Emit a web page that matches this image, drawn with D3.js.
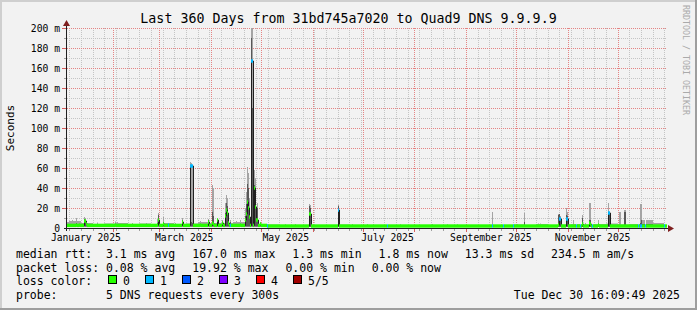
<!DOCTYPE html>
<meta charset="utf-8">
<title>Last 360 Days - Quad9 DNS</title>
<style>

body {
  margin: 0;
  background: #f2f2f2;
}

text {
  font-family: "DejaVu Sans Mono", monospace;
  fill: #000;
  white-space: pre;
}

</style>

<script src="https://d3js.org/d3.v7.min.js"></script>

<div id="chart">
</div>

<script>

// ---- data ----

// weekly background (weeks starting on Monday, 30 Dec 2024 .. 29 Dec 2025), values in ms
var baseHi = [6, 7, 5, 4, 4.5, 5, 4, 4.5, 4, 5, 4, 4.5, 6, 5, 5, 6, 6, 4,
              3.5, 3, 3, 3, 3, 3, 3.5, 3, 3, 3, 3, 3, 3, 3, 3, 3, 3, 3, 3, 3, 3,
              3.5, 3, 4, 3, 3.5, 4, 3.5, 4, 4.5, 3.5, 4, 8, 5, 3];
var baseMid = [3.4, 3.4, 3.4, 3.4, 3.4, 3.4, 3.4, 3.4, 3.4, 3.4, 3.4, 3.4, 3.4, 3.4, 3.4, 3.4, 3.4, 3.4,
               2.8, 2.8, 2.8, 2.8, 2.8, 2.8, 2.8, 2.8, 2.8, 2.8, 2.8, 2.8, 2.8, 2.8, 2.8, 2.8, 2.8, 2.8, 2.8, 2.8, 2.8,
               2.8, 2.8, 2.8, 2.8, 2.8, 2.8, 2.8, 2.8, 2.8, 2.8, 2.8, 4, 3, 2.8];
var baseMed = [2.6, 2.6, 2.6, 2.6, 2.6, 2.6, 2.6, 2.6, 2.6, 2.6, 2.6, 2.6, 2.6, 2.6, 2.6, 2.6, 2.6, 2.6,
               2, 2, 2, 2, 2, 2, 2, 2, 2, 2, 2, 2, 2, 2, 2, 2, 2, 2, 2, 2, 2,
               2, 2, 2, 2, 2, 2, 2, 2, 2, 2, 2, 2, 2, 2];
var baseLo = [1.4, 1.4, 1.4, 1.4, 1.4, 1.4, 1.4, 1.4, 1.4, 1.4, 1.4, 1.4, 1.4, 1.4, 1.4, 1.4, 1.4, 1.4,
              1.2, 1.2, 1.2, 1.2, 1.2, 1.2, 1.2, 1.2, 1.2, 1.2, 1.2, 1.2, 1.2, 1.2, 1.2, 1.2, 1.2, 1.2, 1.2, 1.2, 1.2,
              1.2, 1.2, 1.2, 1.2, 1.2, 1.2, 1.2, 1.2, 1.2, 1.2, 1.2, 1.2, 1.2, 1.2];
var baseLoss = [0, 0, 0, 0, 0, 0, 0, 0, 0, 0, 0, 0, 0, 0, 0, 0, 0, 0,
                0, 0, 0, 0, 0, 0, 0, 0, 0, 0, 0, 0, 0, 0, 0, 0, 0, 0, 0, 0, 0,
                0, 0, 0, 0, 0, 0, 0, 0, 0, 0, 0, 0, 0, 0];

// single graph columns that stand out (days since 1 Jan 2025, ms, pings lost)
var spikeDay = [6.67, 9.07, 10.87, 13.87, 14.47, 15.07, 21.67, 32.47, 33.67, 42.67, 51.07,
                57.67, 58.27, 61.27, 64.27, 68.47, 72.67, 77.47, 78.07, 78.67, 83.47, 86.47,
                88.27, 90.67, 91.27, 93.67, 96.67, 98.47, 99.07, 99.67, 100.27, 101.47, 105.07,
                107.47, 110.47, 111.07, 111.67, 112.27, 112.87, 114.07, 114.67, 115.87, 116.47,
                117.07, 117.67, 119.47, 123.67, 134.47, 140.47, 148.87, 149.47, 166.27, 174.67,
                183.67, 187.27, 195.67, 203.47, 222.67, 231.67, 237.67, 258.67, 265.27, 271.27,
                273.67, 277.87, 286.27, 287.47, 298.27, 298.87, 299.47, 303.07, 303.67, 307.27,
                309.07, 311.47, 312.67, 314.47, 316.87, 317.47, 318.67, 322.27, 328.27, 328.87,
                334.87, 335.47, 337.87, 338.47, 343.27, 346.27, 347.47, 348.07, 350.47, 361.87];
var spikeHi = [8, 10, 7, 11, 10, 7, 5.5, 6.5, 6, 5, 5,
               9, 15, 11, 5, 5, 10, 66, 65, 63, 7, 6,
               9, 43, 40, 10, 8, 25, 33, 30, 12, 8, 7,
               8, 20, 36, 61, 55, 30, 200, 200, 58, 50,
               20, 25, 6, 4, 3.8, 4, 24, 23, 23, 4,
               4, 3.8, 3, 3.8, 4, 3.8, 3.8, 16, 3, 3,
               4, 15, 4.5, 4.5, 14, 14, 12, 20, 16, 8,
               3, 3, 13, 5, 25, 25, 3, 8, 25, 16,
               16, 16, 18, 18, 4, 3, 24, 24, 3, 3];
var spikeMid = [4, 5, 4, 9, 8, 5, 3.5, 4, 3.5, 3.4, 3.4,
                5, 13, 6, 3.5, 3, 8, 8, 6, 5, 4, 3.4,
                8, 16, 12, 9, 6, 15, 25, 22, 8, 6, 4,
                4, 12, 24, 44, 40, 20, 190, 120, 43, 30,
                12, 20, 4, 3, 2.8, 2.8, 22, 20, 22, 2.8,
                2.8, 2.8, 2.8, 2.8, 2.8, 2.8, 2.8, 3, 2.8, 2.8,
                2.8, 6, 2.8, 2.8, 13, 14, 10, 13, 12, 3,
                2.8, 2.8, 10, 2.8, 8, 8, 2.8, 3, 16, 16,
                3, 3, 16, 16, 2.8, 2.8, 5, 8, 2.8, 2.8];
var spikeMed = [2.6, 3, 3, 7, 7, 4, 2.6, 3, 2.6, 2.6, 2.6,
                3, 8, 4, 3, 2.6, 6, 62, 62, 62, 3, 2.6,
                6, 5, 4, 8, 5, 12, 18, 15, 5, 2.6, 2.6,
                3, 8, 14, 26, 20, 11, 167, 167, 40, 21,
                8, 8, 4, 2, 2, 2, 14, 14, 18, 2,
                2, 2, 2, 2, 2, 2, 2, 2, 2, 2,
                2, 2, 2, 2, 3, 9, 9, 9, 9, 2,
                2, 2, 4, 2, 5, 4, 2, 3, 15, 15,
                2, 2, 2, 2, 2, 2, 2, 2, 2, 2];
var spikeLoss = [0, 0, 0, 0, 0, 0, 0, 0, 0, 0, 0,
                 0, 0, 0, 1, 0, 0, 1, 1, 1, 0, 0,
                 0, 0, 0, 0, 0, 0, 0, 0, 0, 1, 0,
                 0, 0, 0, 0, 0, 0, 1, 1, 0, 0,
                 0, 0, 0, 1, 0, 0, 0, 0, 1, 0,
                 0, 0, 1, 0, 0, 0, 0, 1, 1, 1,
                 0, 0, 0, 0, 0, 1, 1, 1, 1, 0,
                 1, 1, 0, 0, 0, 0, 1, 0, 1, 1,
                 0, 0, 0, 0, 0, 1, 1, 1, 1, 1];

var lossLabels = ["0", "1", "2", "3", "4", "5/5"];
var lossColors = ["#26ff00", "#00b8ff", "#0059ff", "#7e00ff", "#ff0000", "#a00000"];

var yTicks = [0, 20, 40, 60, 80, 100, 120, 140, 160, 180, 200];
var monthLabels = ["January 2025", "March 2025", "May 2025", "July 2025", "September 2025", "November 2025"];

var rttStats = ["3.1 ms avg", "167.0 ms max", "1.3 ms min", "1.8 ms now", "13.3 ms sd", "234.5 m am/s"];
var lossStats = ["0.08 % avg", "19.92 % max", "0.00 % min", "0.00 % now"];

var title = "Last 360 Days from 31bd745a7020 to Quad9 DNS 9.9.9.9";
var probeText = "5 DNS requests every 300s";
var stampText = "Tue Dec 30 16:09:49 2025";

// ---- layout ----

var width = 697,
    height = 310,
    DAY = 864e5;

var endTime = new Date(Date.UTC(2025, 11, 30, 16, 9, 49)),
    startTime = new Date(+endTime - 360 * DAY),
    jan1 = Date.UTC(2025, 0, 1);

var x = d3.scaleUtc()
    .domain([startTime, endTime])
    .range([67, 667]);

var y = d3.scaleLinear()
    .domain([0, 200])
    .range([228, 28]);

function px(t) { return Math.round(x(t)); }

var svg = d3.select("#chart").append("svg")
    .attr("width", width)
    .attr("height", height);

svg.append("rect").attr("width", width).attr("height", height).attr("fill", "#f2f2f2");
svg.append("rect").attr("width", width).attr("height", 2).attr("fill", "#cfcfcf");
svg.append("rect").attr("width", 2).attr("height", height).attr("fill", "#cfcfcf");
svg.append("rect").attr("y", height - 2).attr("width", width).attr("height", 2).attr("fill", "#9e9e9e");
svg.append("rect").attr("x", width - 2).attr("width", 2).attr("height", height).attr("fill", "#9e9e9e");

// ---- build step segments from weeks + spikes ----

var weeks = d3.utcMonday.range(new Date(Date.UTC(2024, 11, 30)), endTime);
var base = weeks.map(function (w, i) {
  return {t0: +w, t1: +w + 7 * DAY, hi: baseHi[i], mid: baseMid[i], med: baseMed[i],
          lo: baseLo[i], loss: baseLoss[i]};
});
function weekAt(t) {
  var found = base[0];
  base.forEach(function (b) { if (b.t0 <= t && t < b.t1) found = b; });
  return found;
}
var spikes = spikeDay.map(function (d, i) {
  var t = jan1 + d * DAY;
  return {t0: t, t1: t + 0.6 * DAY, hi: spikeHi[i], mid: spikeMid[i], med: spikeMed[i],
          lo: weekAt(t).lo, loss: spikeLoss[i]};
});

var cuts = [+startTime, +endTime];
base.concat(spikes).forEach(function (s) { cuts.push(s.t0, s.t1); });
cuts = Array.from(new Set(cuts))
    .filter(function (t) { return t >= +startTime && t <= +endTime; })
    .sort(d3.ascending);

var segs = [];
for (var i = 0; i < cuts.length - 1; i++) {
  var a = cuts[i], b = cuts[i + 1], m = (a + b) / 2, src = null;
  spikes.forEach(function (s) { if (s.t0 <= m && m < s.t1) src = s; });
  if (!src) src = weekAt(m);
  var seg = Object.assign({}, src, {t0: a, t1: b});
  if (px(b) > px(a)) segs.push(seg);
}

// ---- grid ----

var grid = svg.append("g");
var minorY = d3.range(10, 200, 20),
    majorY = yTicks.filter(function (v) { return v > 0; }),
    minorX = d3.utcMonday.range(startTime, endTime),
    majorX = d3.utcMonth.range(startTime, endTime),
    labelX = d3.utcMonth.every(2).range(new Date(jan1), endTime);

grid.selectAll("line.gy").data(minorY).join("line").attr("class", "gy")
    .attr("x1", 67).attr("x2", 667)
    .attr("y1", function (d) { return Math.round(y(d)) + 0.5; })
    .attr("y2", function (d) { return Math.round(y(d)) + 0.5; })
    .attr("stroke", "#c4c4c4").attr("stroke-dasharray", "1,1");
grid.selectAll("line.gx").data(minorX).join("line").attr("class", "gx")
    .attr("x1", function (d) { return px(d) + 0.5; })
    .attr("x2", function (d) { return px(d) + 0.5; })
    .attr("y1", 28).attr("y2", 228)
    .attr("stroke", "#c4c4c4").attr("stroke-dasharray", "1,1");
grid.selectAll("line.my").data(majorY).join("line").attr("class", "my")
    .attr("x1", 67).attr("x2", 667)
    .attr("y1", function (d) { return Math.round(y(d)) + 0.5; })
    .attr("y2", function (d) { return Math.round(y(d)) + 0.5; })
    .attr("stroke", "#e48484").attr("stroke-dasharray", "1,1");
grid.selectAll("line.mx").data(majorX).join("line").attr("class", "mx")
    .attr("x1", function (d) { return px(d) + 0.5; })
    .attr("x2", function (d) { return px(d) + 0.5; })
    .attr("y1", 28).attr("y2", 228)
    .attr("stroke", "#e48484").attr("stroke-dasharray", "1,1");

// ticks outside the plot
grid.selectAll("line.ty").data(minorY.concat(majorY)).join("line").attr("class", "ty")
    .attr("x1", function (d) { return d % 20 ? 64 : 62; }).attr("x2", 67)
    .attr("y1", function (d) { return Math.round(y(d)) + 0.5; })
    .attr("y2", function (d) { return Math.round(y(d)) + 0.5; })
    .attr("stroke", function (d) { return d % 20 ? "#a0a0a0" : "#d86060"; });
grid.selectAll("line.tx").data(minorX).join("line").attr("class", "tx")
    .attr("x1", function (d) { return px(d) + 0.5; })
    .attr("x2", function (d) { return px(d) + 0.5; })
    .attr("y1", 228).attr("y2", 231)
    .attr("stroke", "#a0a0a0");
grid.selectAll("line.tmx").data(majorX).join("line").attr("class", "tmx")
    .attr("x1", function (d) { return px(d) + 0.5; })
    .attr("x2", function (d) { return px(d) + 0.5; })
    .attr("y1", 228).attr("y2", 232)
    .attr("stroke", "#d86060");

// ---- smoke, median line, loss band ----

svg.append("clipPath").attr("id", "plot")
  .append("rect").attr("x", 67).attr("y", 28).attr("width", 600).attr("height", 200);

var plot = svg.append("g").attr("clip-path", "url(#plot)");

plot.selectAll("rect.smoke").data(segs).join("rect").attr("class", "smoke")
    .attr("x", function (d) { return px(d.t0); })
    .attr("width", function (d) { return px(d.t1) - px(d.t0); })
    .attr("y", function (d) { return y(d.hi); })
    .attr("height", function (d) { return y(d.lo) - y(d.hi); })
    .attr("fill", "#a4a4a4");

plot.selectAll("rect.smoke2").data(segs).join("rect").attr("class", "smoke2")
    .attr("x", function (d) { return px(d.t0); })
    .attr("width", function (d) { return px(d.t1) - px(d.t0); })
    .attr("y", function (d) { return y(d.mid); })
    .attr("height", function (d) { return y(d.lo) - y(d.mid); })
    .attr("fill", "#585858");

var medPts = segs.map(function (d) { return [px(d.t0) + 0.5, y(d.med)]; });
medPts.push([px(endTime) + 0.5, y(segs[segs.length - 1].med)]);

plot.append("path")
    .attr("d", d3.line().curve(d3.curveStepAfter)(medPts))
    .attr("fill", "none")
    .attr("stroke", "#202020")
    .attr("stroke-width", 1);

plot.selectAll("rect.band").data(segs).join("rect").attr("class", "band")
    .attr("x", function (d) { return px(d.t0); })
    .attr("width", function (d) { return px(d.t1) - px(d.t0); })
    .attr("y", function (d) { return y(d.med + 1.7); })
    .attr("height", function (d) { return y(d.med - 1.7) - y(d.med + 1.7); })
    .attr("fill", function (d) { return lossColors[d.loss]; });

// ---- axes ----

svg.append("line")
    .attr("x1", 64).attr("x2", 671).attr("y1", 228.5).attr("y2", 228.5)
    .attr("stroke", "#1f1f1f");
svg.append("line")
    .attr("x1", 66.5).attr("x2", 66.5).attr("y1", 231).attr("y2", 24)
    .attr("stroke", "#1f1f1f");
svg.append("path")
    .attr("d", "M668,225 L674,228.5 L668,232 Z")
    .attr("fill", "#7f1f1f");
svg.append("path")
    .attr("d", "M63,26 L66.5,20 L70,26 Z")
    .attr("fill", "#7f1f1f");

svg.selectAll("text.ylab").data(yTicks).join("text").attr("class", "ylab")
    .attr("x", 60)
    .attr("y", function (d) { return y(d) + 3.5; })
    .attr("text-anchor", "end")
    .style("font-size", "9.7px")
    .text(function (d) { return d === 0 ? "0" : d + " m"; });

svg.selectAll("text.xlab").data(labelX).join("text").attr("class", "xlab")
    .attr("x", function (d) { return x(new Date(+d + 15 * DAY)); })
    .attr("y", 241)
    .attr("text-anchor", "middle")
    .style("font-size", "9.7px")
    .text(function (d, i) { return monthLabels[i]; });

// ---- titles ----

svg.append("text")
    .attr("x", 348.5)
    .attr("y", 23)
    .attr("text-anchor", "middle")
    .style("font-size", "13.3px")
    .text(title);

svg.append("text")
    .attr("transform", "translate(14,128) rotate(-90)")
    .attr("text-anchor", "middle")
    .style("font-size", "11px")
    .text("Seconds");

svg.append("text")
    .attr("transform", "translate(683,5) rotate(90)")
    .style("font-size", "8.3px")
    .style("fill", "#aaaaaa")
    .text("RRDTOOL / TOBI OETIKER");

// ---- legend ----

function legendRow(yPos, head, items) {
  svg.append("text").attr("x", 16).attr("y", yPos).style("font-size", "11.5px").text(head);
  var xPos = 106;
  items.forEach(function (s) {
    var t = svg.append("text").attr("x", xPos).attr("y", yPos).style("font-size", "11.5px").text(s);
    xPos += t.node().getComputedTextLength() + 17;
  });
}

legendRow(258, "median rtt:", rttStats);
legendRow(271.5, "packet loss:", lossStats);

svg.append("text").attr("x", 16).attr("y", 285).style("font-size", "11.5px").text("loss color:");
lossLabels.forEach(function (l, i) {
  var bx = 108 + 37 * i;
  svg.append("rect")
      .attr("x", bx + 0.5).attr("y", 275.5)
      .attr("width", 8).attr("height", 8)
      .attr("fill", lossColors[i])
      .attr("stroke", "#000");
  svg.append("text").attr("x", bx + 15).attr("y", 284.5).style("font-size", "11.5px").text(l);
});

legendRow(298.5, "probe:", [probeText]);

svg.append("text")
    .attr("x", 680)
    .attr("y", 298.5)
    .attr("text-anchor", "end")
    .style("font-size", "11.5px")
    .text(stampText);

</script>
